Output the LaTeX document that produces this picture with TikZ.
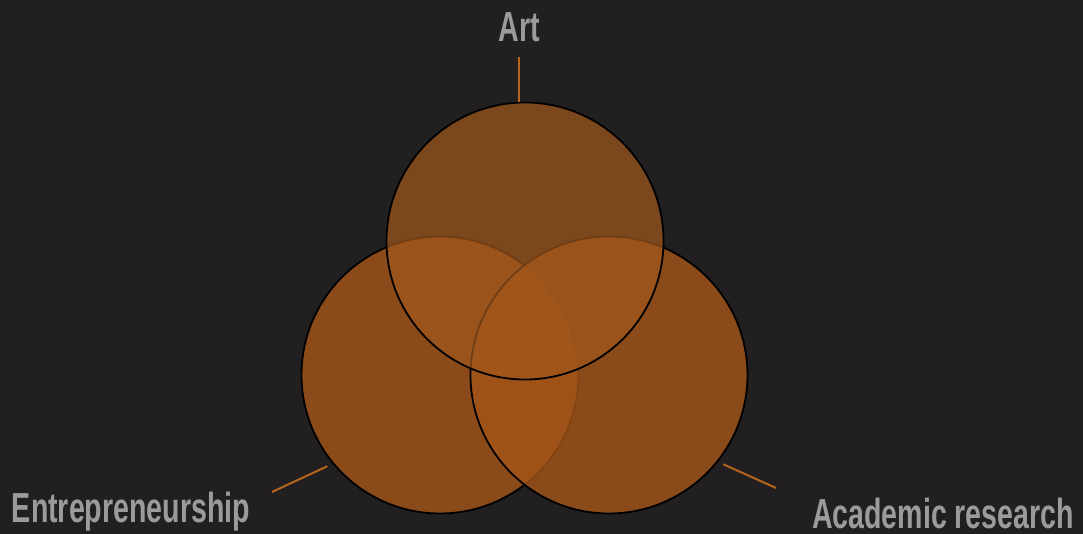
\documentclass[tikz,border=0pt]{standalone}
\usepackage{fontspec}
\usepackage{xcolor}
\usepackage{tikz}
\usetikzlibrary{positioning,calc}
\newfontfamily\labelfont[FakeStretch=0.68]{Liberation Sans}
\definecolor{vnback}{HTML}{221F20}
\definecolor{vnorange}{HTML}{A45518}
\definecolor{vnart}{HTML}{A1581D}
\definecolor{vntick}{HTML}{B5651D}
\definecolor{vngray}{HTML}{9B9B9B}

\begin{document}
\begin{tikzpicture}[
  x=1pt, y=1pt,
  setcircle/.style={circle, draw=black, line width=1.8pt, fill=vnorange, fill opacity=0.8, inner sep=0pt, minimum size=277pt},
  setlabel/.style={font=\labelfont\bfseries\fontsize{42}{42}\selectfont, text=vngray, inner sep=0pt, anchor=base, text depth=0pt},
  tick/.style={vntick, line width=2pt},
]
% Background
\fill[vnback] (0,0) rectangle (1083,534);
\useasboundingbox (0,0) rectangle (1083,534);

% Three sets
\node[setcircle] (entre) at (440,159) {};
\node[setcircle] (acad)  at (609,159) {};
\node[setcircle, fill=vnart, fill opacity=0.7] (art) at (525,293) {};

% Labels
\node[setlabel] (artlabel)   at (519,492) {Art};
\node[setlabel] (entrelabel) at (131,11)  {Entrepreneurship};
\node[setlabel] (acadlabel)  at (943,5)   {Academic research};

% Ticks from labels to circles
\coordinate (arttick)   at (519,477);
\coordinate (entretick) at (272,42);
\coordinate (acadtick)  at (776,46);
\draw[tick] (arttick) -- (arttick |- art.north);
\draw[tick] (entretick) -- ($(entre.center)!1.04!(entre.219)$);
\draw[tick] (acadtick) -- ($(acad.center)!1.04!(acad.322)$);
\end{tikzpicture}
\end{document}
